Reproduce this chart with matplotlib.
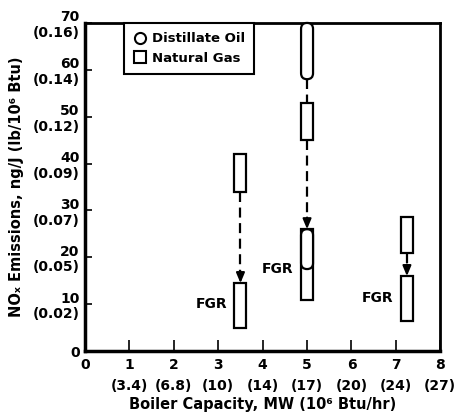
import matplotlib
matplotlib.use("Agg")
import matplotlib.pyplot as plt
from matplotlib.patches import FancyBboxPatch
from matplotlib.lines import Line2D

plt.rcParams["font.family"] = ["DejaVu Sans"]
plt.rcParams["font.weight"] = "bold"

# data
capacity = [3.5, 5.0, 7.25]
gas_before_low = [34, 45, 21]
gas_before_high = [42, 53, 28.5]
gas_fgr_low = [5, 11, 6.5]
gas_fgr_high = [14.5, 26, 16]
oil_capacity = 5.0
oil_before = (58, 70)
oil_fgr = (17.5, 26)
fgr_label_y = [10, 17.5, 11.3]

x_ticks = [0, 1, 2, 3, 4, 5, 6, 7, 8]
x_tick_labels = ["0", "1\n(3.4)", "2\n(6.8)", "3\n(10)", "4\n(14)", "5\n(17)",
                 "6\n(20)", "7\n(24)", "8\n(27)"]
y_ticks = [0, 10, 20, 30, 40, 50, 60, 70]
y_tick_labels = ["0", "10\n(0.02)", "20\n(0.05)", "30\n(0.07)", "40\n(0.09)",
                 "50\n(0.12)", "60\n(0.14)", "70\n(0.16)"]

bar_w = 0.27

fig = plt.figure(figsize=(4.6, 4.17), dpi=100)
fig.patch.set_facecolor("white")
ax = fig.add_axes([0.185, 0.158, 0.772, 0.787])
ax.set_xlim(0, 8)
ax.set_ylim(0, 70)

# gas rectangles
ax.bar(capacity, [h - l for l, h in zip(gas_before_low, gas_before_high)],
       bottom=gas_before_low, width=bar_w, color="white", edgecolor="black",
       linewidth=1.6, zorder=3)
ax.bar(capacity, [h - l for l, h in zip(gas_fgr_low, gas_fgr_high)],
       bottom=gas_fgr_low, width=bar_w, color="white", edgecolor="black",
       linewidth=1.6, zorder=3)

# oil ovals (stadium shape)
aspect = (0.787 * 417 / 70) / (0.772 * 460 / 8)
for lo, hi in [oil_before, oil_fgr]:
    p = FancyBboxPatch((oil_capacity - bar_w / 2, lo), bar_w, hi - lo,
                       boxstyle="round,pad=0,rounding_size=%f" % (bar_w / 2),
                       mutation_aspect=1 / aspect, facecolor="white",
                       edgecolor="black", linewidth=1.6, zorder=4, clip_on=False)
    ax.add_patch(p)


# dashed arrows (before -> FGR)
def dashed_arrow(x, y0, y1):
    head = 2.5
    ax.plot([x, x], [y0, y1 + head], color="black", linestyle=(0, (4.5, 2.5)),
            linewidth=1.6, zorder=2)
    ax.annotate("", xy=(x, y1), xytext=(x, y1 + head),
                arrowprops=dict(arrowstyle="-|>,head_length=0.6,head_width=0.25",
                                color="black", linewidth=1.5, shrinkA=0, shrinkB=0),
                zorder=2)


for x, lo, hi in zip(capacity, gas_before_low, gas_fgr_high):
    dashed_arrow(x, lo, hi)
ax.plot([oil_capacity, oil_capacity], [oil_before[0], gas_before_high[1]],
        color="black", linestyle=(0, (4.5, 2.5)), linewidth=1.6, zorder=2)

# FGR labels
for x, y in zip(capacity, fgr_label_y):
    ax.text(x - 0.3, y, "FGR", ha="right", va="center", fontsize=10,
            fontweight="bold")

# axes styling
ax.set_xticks(x_ticks)
ax.set_xticklabels(x_tick_labels, fontsize=10, fontweight="bold",
                   linespacing=1.6)
ax.set_yticks(y_ticks)
ax.set_yticklabels(y_tick_labels, fontsize=10, fontweight="bold",
                   linespacing=1.15)
ax.tick_params(axis="x", direction="in", length=8, width=1.2, pad=5)
ax.tick_params(axis="y", direction="in", length=5, width=1.2, pad=4)
for s in ax.spines.values():
    s.set_linewidth(2)
ax.spines["left"].set_linewidth(2.5)
ax.spines["bottom"].set_linewidth(2.5)

ax.set_xlabel("Boiler Capacity, MW (10⁶ Btu/hr)", fontsize=10.5,
              fontweight="bold", labelpad=3)
ax.set_ylabel("NOₓ Emissions, ng/J (lb/10⁶ Btu)", fontsize=10.5,
              fontweight="bold", labelpad=6)

handles = [
    Line2D([], [], marker="o", linestyle="none", markerfacecolor="white",
           markeredgecolor="black", markersize=8, markeredgewidth=1.5),
    Line2D([], [], marker="s", linestyle="none", markerfacecolor="white",
           markeredgecolor="black", markersize=8, markeredgewidth=1.5),
]
leg = ax.legend(handles, ["Distillate Oil", "Natural Gas"], loc="upper left",
                bbox_to_anchor=(0.11, 1.0), borderaxespad=0, fancybox=False,
                framealpha=1, edgecolor="black", handletextpad=0.4,
                handlelength=1.0, borderpad=0.7, labelspacing=0.5,
                prop=dict(weight="bold", size=9.5))
leg.get_frame().set_linewidth(1.5)

fig.savefig("out.png", dpi=100)
